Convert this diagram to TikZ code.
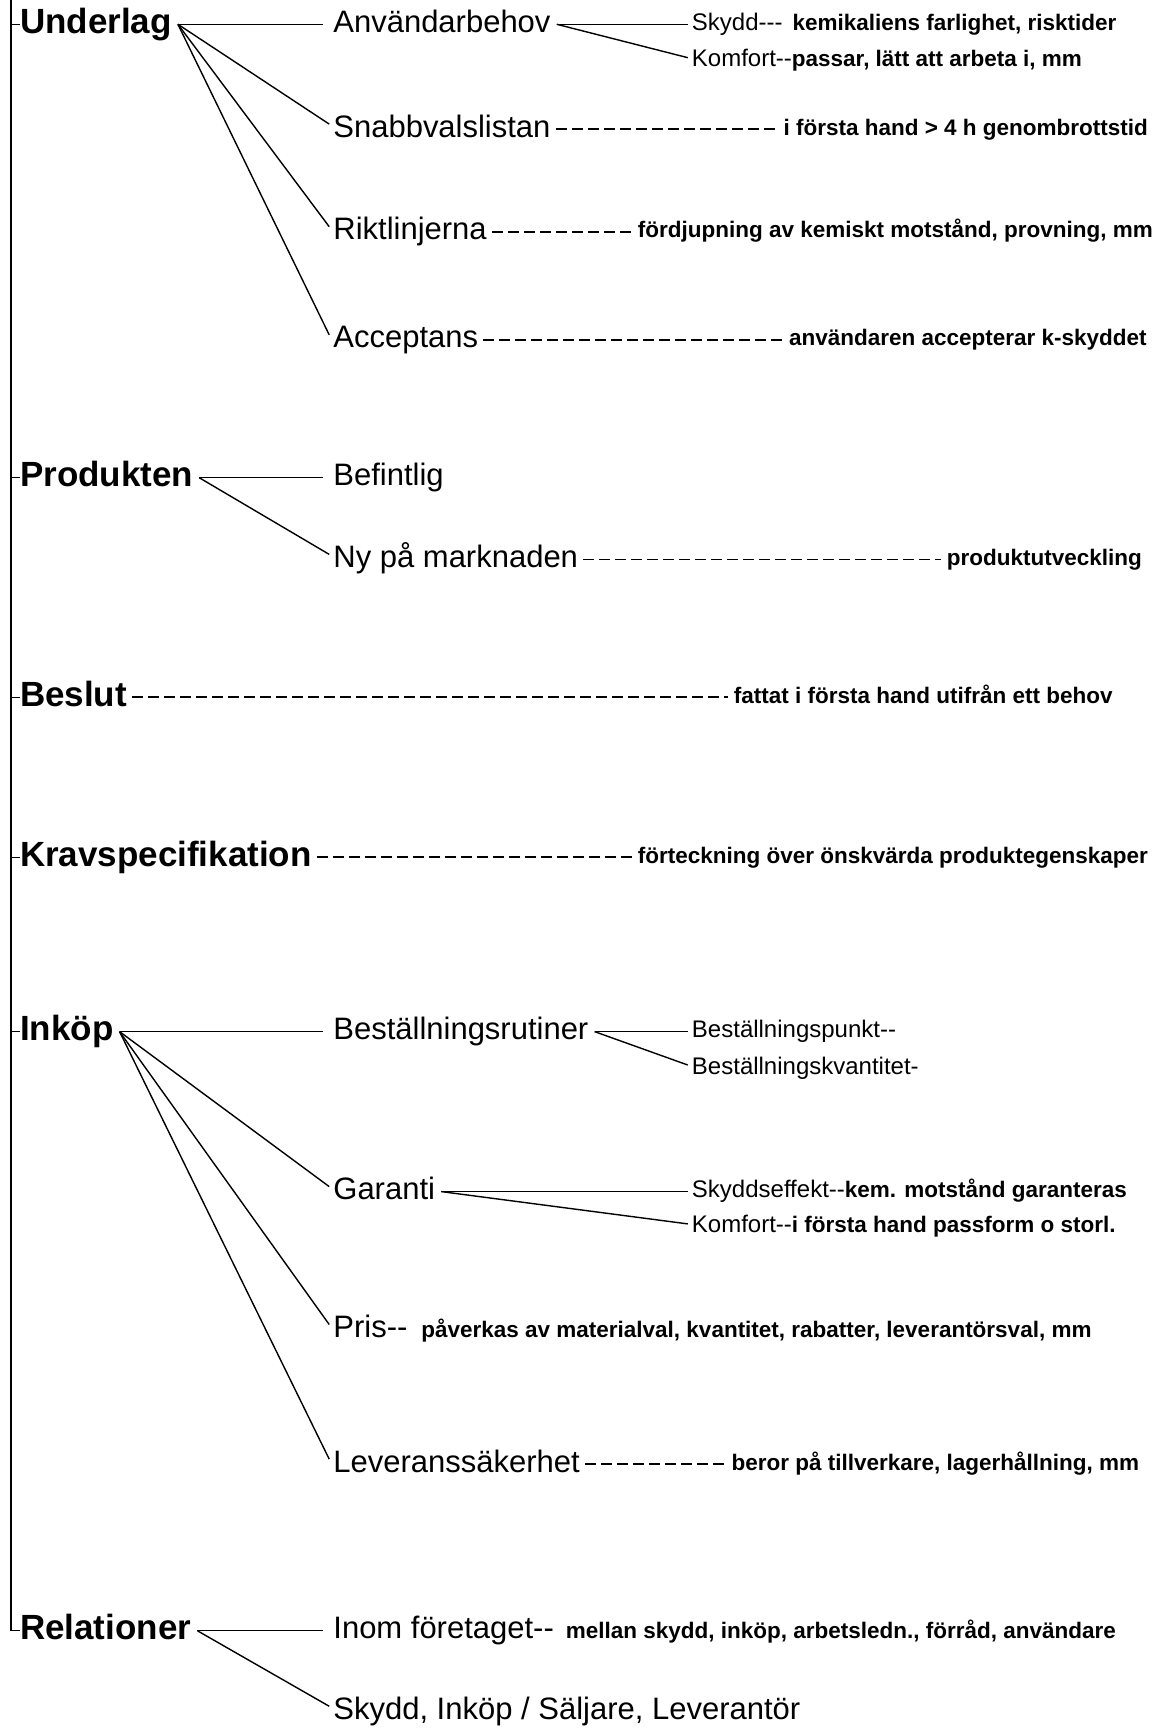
\documentclass[tikz,border=0pt]{standalone}
\usepackage{fontspec}
\setmainfont{Liberation Sans}
\usepackage{tikz}
\usetikzlibrary{positioning}

\newcommand{\beskr}[1]{{\fontsize{22.5}{22.5}\selectfont\bfseries #1}}

\begin{document}
\begin{tikzpicture}[x=1.1036pt, y=-1.1036pt,
  huvud/.style={anchor=west, inner sep=0pt, text height=25pt, text depth=7pt, font=\fontsize{35}{35}\selectfont\bfseries},
  punkt/.style={anchor=west, inner sep=0pt, text height=22pt, text depth=6pt, font=\fontsize{31}{31}\selectfont},
  under/.style={anchor=west, inner sep=0pt, text height=17pt, text depth=5pt, font=\fontsize{24}{24}\selectfont},
  besk/.style={anchor=west, inner sep=0pt, text height=16pt, text depth=4pt, font=\fontsize{22.5}{22.5}\selectfont\bfseries},
  gren/.style={line width=1.4pt},
  streck/.style={line width=1.7pt, dash pattern=on 11pt off 5pt, shorten <=5pt, shorten >=6pt}]

\useasboundingbox (0,0) rectangle (1052,1568);

\def\xa{18};
\def\xb{302};
\def\xc{627};

% rubriker
\node[huvud] (und) at (\xa,22) {Underlag};
\node[huvud] (prod) at (\xa,433) {Produkten};
\node[huvud] (besl) at (\xa,632) {Beslut};
\node[huvud] (krav) at (\xa,777) {Kravspecifikation};
\node[huvud] (ink) at (\xa,935) {Inköp};
\node[huvud] (rel) at (\xa,1478) {Relationer};

\coordinate (topp) at (10,0);
\draw[gren] (topp) |- (rel.west);
\foreach \n in {und,prod,besl,krav,ink}
  \draw[gren] (\n.west) -- (\n.west -| topp);

% punkter
\node[punkt] (anv) at (\xb,22) {Användarbehov};
\node[punkt] (snab) at (\xb,117) {Snabbvalslistan};
\node[punkt] (rikt) at (\xb,210) {Riktlinjerna};
\node[punkt] (acc) at (\xb,308) {Acceptans};
\node[punkt] (bef) at (\xb,433) {Befintlig};
\node[punkt] (ny) at (\xb,507) {Ny på marknaden};
\node[punkt] (best) at (\xb,935) {Beställningsrutiner};
\node[punkt] (gar) at (\xb,1080) {Garanti};
\node[punkt] (pris) at (\xb,1205) {Pris-{}-\hspace{14pt}\beskr{påverkas av materialval, kvantitet, rabatter, leverantörsval, mm}};
\node[punkt] (lev) at (\xb,1327) {Leveranssäkerhet};
\node[punkt] (inom) at (\xb,1478) {Inom företaget-{}-\hspace{12pt}\beskr{mellan skydd, inköp, arbetsledn., förråd, användare}};
\node[punkt] (sil) at (\xb,1551) {Skydd, Inköp / Säljare, Leverantör};

% underpunkter
\node[under] (skydd) at (\xc,22) {Skydd-{}-{}-\hspace{10pt}\beskr{kemikaliens farlighet, risktider}};
\node[under] (komf) at (\xc,55) {Komfort-{}-\beskr{passar, lätt att arbeta i, mm}};
\node[under] (bpunkt) at (\xc,935) {Beställningspunkt-{}-};
\node[under] (bkvant) at (\xc,968) {Beställningskvantitet-};
\node[under] (skeff) at (\xc,1080) {Skyddseffekt-{}-\beskr{kem. motstånd garanteras}};
\node[under] (komfb) at (\xc,1112) {Komfort-{}-\beskr{i första hand passform o storl.}};

% beskrivningar
\node[besk] (snabd) at (710,117) {i första hand > 4 h genombrottstid};
\node[besk] (riktd) at (578,210) {fördjupning av kemiskt motstånd, provning, mm};
\node[besk] (accd) at (715,308) {användaren accepterar k-skyddet};
\node[besk] (nyd) at (858,507) {produktutveckling};
\node[besk] (besld) at (665,632) {fattat i första hand utifrån ett behov};
\node[besk] (kravd) at (578,777) {förteckning över önskvärda produktegenskaper};
\node[besk] (levd) at (663,1327) {beror på tillverkare, lagerhållning, mm};

\foreach \a/\b in {snab/snabd,rikt/riktd,acc/accd,ny/nyd,besl/besld,krav/kravd,lev/levd}
  \draw[streck] (\a.east) -- (\b.west);

% grenar
\coordinate (undh) at ([xshift=6pt]und.east);
\draw[gren] (undh) -- ([xshift=-10pt]anv.west);
\foreach \n in {snab,rikt,acc}
  \draw[gren] (undh) -- ([xshift=-4pt,yshift=5pt]\n.west);

\coordinate (prodh) at ([xshift=6pt]prod.east);
\draw[gren] (prodh) -- ([xshift=-10pt]bef.west);
\draw[gren] (prodh) -- ([xshift=-4pt,yshift=5pt]ny.west);

\coordinate (inkh) at ([xshift=6pt]ink.east);
\draw[gren] (inkh) -- ([xshift=-10pt]best.west);
\foreach \n in {gar,pris,lev}
  \draw[gren] (inkh) -- ([xshift=-4pt,yshift=5pt]\n.west);

\coordinate (relh) at ([xshift=6pt]rel.east);
\draw[gren] (relh) -- ([xshift=-10pt]inom.west);
\draw[gren] (relh) -- ([xshift=-4pt,yshift=5pt]sil.west);

\coordinate (anvh) at ([xshift=6pt]anv.east);
\draw[gren] (anvh) -- ([xshift=-4pt]skydd.west);
\draw[gren] (anvh) -- ([xshift=-4pt,yshift=3pt]komf.west);

\coordinate (besth) at ([xshift=6pt]best.east);
\draw[gren] (besth) -- ([xshift=-4pt]bpunkt.west);
\draw[gren] (besth) -- ([xshift=-4pt,yshift=3pt]bkvant.west);

\coordinate (garh) at ([xshift=6pt]gar.east);
\draw[gren] (garh) -- ([xshift=-4pt]skeff.west);
\draw[gren] (garh) -- ([xshift=-4pt,yshift=3pt]komfb.west);

\end{tikzpicture}
\end{document}
